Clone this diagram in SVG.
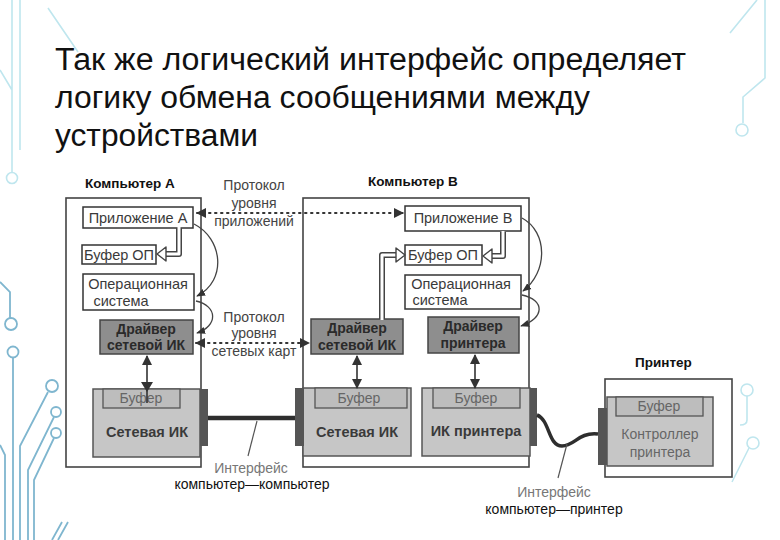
<svg xmlns="http://www.w3.org/2000/svg" width="780" height="540" viewBox="0 0 780 540">
<style>
  .t { font-family: "Liberation Sans", Arial, sans-serif; }
  .title { font-family: "Liberation Sans Narrow", "Liberation Sans", Arial, sans-serif; font-size: 31px; fill: #111; }
  .hdr { font-family: "Liberation Sans", Arial, sans-serif; font-size: 13.5px; font-weight: bold; fill: #111; }
  .lbl { font-family: "Liberation Sans", Arial, sans-serif; font-size: 14.5px; fill: #3a3a3a; text-anchor: middle; }
  .proto { font-family: "Liberation Sans", Arial, sans-serif; font-size: 14px; fill: #444; text-anchor: middle; }
  .drv { font-family: "Liberation Sans", Arial, sans-serif; font-size: 14px; font-weight: bold; fill: #2a2a2a; text-anchor: middle; }
  .nic { font-family: "Liberation Sans", Arial, sans-serif; font-size: 14.5px; font-weight: bold; fill: #3a3a3a; text-anchor: middle; }
  .buf { font-family: "Liberation Sans", Arial, sans-serif; font-size: 14px; fill: #666; text-anchor: middle; }
  .cap { font-family: "Liberation Sans", Arial, sans-serif; font-size: 14px; fill: #111; text-anchor: middle; }
  .capg { font-family: "Liberation Sans", Arial, sans-serif; font-size: 14px; fill: #777; text-anchor: middle; }
  .frame { fill: #fff; stroke: #444; stroke-width: 1.6; }
  .box { fill: #fff; stroke: #333; stroke-width: 1.5; }
  .dbox { fill: #8e8e8e; stroke: #444; stroke-width: 1.5; }
  .gbox { fill: #c6c6c6; stroke: #555; stroke-width: 1.5; }
  .bbox { fill: #bdbdbd; stroke: #555; stroke-width: 1.3; }
  .plug { fill: #555; }
  .dot { fill: none; stroke: #333; stroke-width: 2; stroke-dasharray: 1.5 4.5; stroke-linecap: round; }
  .curve { fill: none; stroke: #444; stroke-width: 1.3; }
  .dbl { fill: none; stroke: #333; stroke-width: 1.6; }
  .holo { fill: none; stroke: #444; stroke-width: 6; stroke-linejoin: round; }
  .holi { fill: none; stroke: #fff; stroke-width: 3; stroke-linejoin: round; }
  .hhead { fill: #fff; stroke: #444; stroke-width: 1.4; stroke-linejoin: round; }
  .deco { fill: none; stroke: #bfe6ee; stroke-width: 1.6; }
  .deco2 { fill: none; stroke: #7fb6cf; stroke-width: 1.8; }
</style>
<defs>
  <marker id="ah" viewBox="0 0 10 10" refX="9" refY="5" markerWidth="5" markerHeight="5" orient="auto-start-reverse" markerUnits="userSpaceOnUse">
    <path d="M0,0 L10,5 L0,10 z" fill="#333"/>
  </marker>
  <marker id="ahc" viewBox="0 0 10 10" refX="9" refY="5" markerWidth="9" markerHeight="9" orient="auto" markerUnits="userSpaceOnUse">
    <path d="M0,1 L10,5 L0,9 z" fill="#333"/>
  </marker>
  <marker id="ahd" viewBox="0 0 10 10" refX="9" refY="5" markerWidth="10" markerHeight="10" orient="auto-start-reverse" markerUnits="userSpaceOnUse">
    <path d="M0,0 L10,5 L0,10 z" fill="#333"/>
  </marker>
</defs>
<rect x="0" y="0" width="780" height="540" fill="#fff"/>

<g id="decoration">
  <path class="deco" d="M12,0 V172 M20,0 V150 M48,8 L78,52 M0,70 L12,90"/>
  <circle class="deco" cx="12" cy="178" r="5.5"/>
  <path class="deco" d="M765,0 V78 L743,97 V123 M757,0 L730,33"/>
  <circle class="deco" cx="742" cy="130" r="6"/>
  <path class="deco" d="M747,396 V420 Q747,425 740,425"/>
  <circle class="deco" cx="747" cy="390" r="6"/>
  <circle class="deco" cx="753" cy="443" r="6"/>
  <path class="deco" d="M749,448 L732,482"/>
  <path class="deco2" d="M0,282 L10,292 V318"/>
  <circle class="deco2" cx="11" cy="324" r="6"/>
  <circle class="deco2" cx="13" cy="352" r="5.5"/>
  <path class="deco2" d="M13,358 V540 M0,445 L5,455 V540 M48,392 L20,446 V540 M54,417 L28,470 V540 M54,438 L34,480 V540 M52,540 L62,522 M58,540 L68,522"/>
  <circle class="deco2" cx="52" cy="386" r="6"/>
  <circle class="deco2" cx="56" cy="412" r="5"/>
  <circle class="deco2" cx="56" cy="433" r="5"/>
</g>

<g id="title">
  <text class="title" x="55" y="70" textLength="631" lengthAdjust="spacingAndGlyphs">Так же логический интерфейс определяет</text>
  <text class="title" x="55" y="108" textLength="535" lengthAdjust="spacingAndGlyphs">логику обмена сообщениями между</text>
  <text class="title" x="55" y="146" textLength="203" lengthAdjust="spacingAndGlyphs">устройствами</text>
</g>

<g id="computerA">
  <rect class="frame" x="66" y="198" width="135" height="269"/>
  <text class="hdr" x="85" y="188">Компьютер А</text>
</g>
<g id="computerB">
  <rect class="frame" x="303" y="198" width="226" height="269"/>
  <text class="hdr" x="368" y="186">Компьютер В</text>
</g>
<g id="printer">
  <rect class="frame" x="605" y="379" width="127" height="98"/>
  <text class="hdr" x="635" y="367">Принтер</text>
</g>

<g id="appA">
  <rect class="box" x="83" y="207" width="110" height="21"/>
  <text class="lbl" x="138" y="223">Приложение А</text>
</g>
<g id="bufA">
  <rect class="box" x="82" y="245" width="74" height="19"/>
  <text class="lbl" x="119" y="260">Буфер ОП</text>
</g>
<g id="osA">
  <rect class="box" x="83" y="274" width="111" height="36"/>
  <text class="lbl" x="138" y="289">Операционная</text>
  <text class="lbl" x="121" y="306">система</text>
</g>
<g id="drvA">
  <rect class="dbox" x="100" y="320" width="93" height="34"/>
  <text class="drv" x="146" y="334">Драйвер</text>
  <text class="drv" x="146" y="350">сетевой ИК</text>
</g>
<g id="nicA">
  <rect class="gbox" x="93" y="389" width="107" height="68"/>
  <rect class="bbox" x="103" y="389" width="77" height="19"/>
  <text class="buf" x="141" y="403">Буфер</text>
  <text class="nic" x="147" y="437">Сетевая ИК</text>
  <rect class="plug" x="200" y="389" width="8" height="57"/>
</g>

<g id="appB">
  <rect class="box" x="405" y="206" width="116" height="25"/>
  <text class="lbl" x="463" y="223">Приложение В</text>
</g>
<g id="bufB">
  <rect class="box" x="405" y="245" width="77" height="20"/>
  <text class="lbl" x="443" y="260">Буфер ОП</text>
</g>
<g id="osB">
  <rect class="box" x="405" y="275" width="116" height="34"/>
  <text class="lbl" x="461" y="289">Операционная</text>
  <text class="lbl" x="440" y="305">система</text>
</g>
<g id="drvB">
  <rect class="dbox" x="311" y="319" width="92" height="35"/>
  <text class="drv" x="357" y="333">Драйвер</text>
  <text class="drv" x="357" y="350">сетевой ИК</text>
</g>
<g id="drvPrn">
  <rect class="dbox" x="428" y="317" width="91" height="36"/>
  <text class="drv" x="473" y="331">Драйвер</text>
  <text class="drv" x="473" y="348">принтера</text>
</g>
<g id="nicB">
  <rect class="gbox" x="303" y="388" width="108" height="68"/>
  <rect class="bbox" x="315" y="388" width="92" height="20"/>
  <text class="buf" x="359" y="403">Буфер</text>
  <text class="nic" x="357" y="437">Сетевая ИК</text>
  <rect class="plug" x="295" y="388" width="9" height="58"/>
</g>
<g id="nicPrn">
  <rect class="gbox" x="422" y="388" width="108" height="68"/>
  <rect class="bbox" x="433" y="388" width="87" height="20"/>
  <text class="buf" x="476" y="403">Буфер</text>
  <text class="nic" x="476" y="436">ИК принтера</text>
  <rect class="plug" x="530" y="388" width="7" height="58"/>
</g>
<g id="ctrlPrn">
  <rect class="gbox" x="607" y="397" width="106" height="69"/>
  <rect class="bbox" x="616" y="397" width="87" height="19"/>
  <text class="buf" x="659" y="411">Буфер</text>
  <text class="buf" x="660" y="439" fill="#555">Контроллер</text>
  <text class="buf" x="660" y="457" fill="#555">принтера</text>
  <rect class="plug" x="598" y="408" width="9" height="57"/>
</g>

<g id="labels">
  <text class="proto" x="254" y="190">Протокол</text>
  <text class="proto" x="254" y="208">уровня</text>
  <text class="proto" x="254" y="226">приложений</text>
  <text class="proto" x="254" y="322">Протокол</text>
  <text class="proto" x="254" y="338">уровня</text>
  <text class="proto" x="254" y="356">сетевых карт</text>
  <text class="capg" x="251" y="473">Интерфейс</text>
  <text class="cap" x="252" y="489">компьютер—компьютер</text>
  <text class="capg" x="554" y="497">Интерфейс</text>
  <text class="cap" x="554" y="514">компьютер—принтер</text>
</g>

<g id="connectors">
  <!-- protocol dotted lines -->
  <line class="dot" x1="197" y1="213" x2="403" y2="213" marker-start="url(#ahd)" marker-end="url(#ahd)"/>
  <line class="dot" x1="196" y1="343" x2="309" y2="343" marker-start="url(#ahd)" marker-end="url(#ahd)"/>
  <!-- hollow arrows -->
  <path class="holo" d="M179,228 V254 H165"/>
  <path class="holi" d="M179,227 V254 H165"/>
  <path class="hhead" d="M157,254 L166,247 L166,261 Z"/>
  <path class="holo" d="M503,232 V256 H490"/>
  <path class="holi" d="M503,231 V256 H490"/>
  <path class="hhead" d="M483,256 L492,249 L492,263 Z"/>
  <path class="holo" d="M382,319 V255 H397"/>
  <path class="holi" d="M382,320 V255 H397"/>
  <path class="hhead" d="M405,255 L396,248 L396,262 Z"/>
  <!-- curved arrows -->
  <path class="curve" d="M194,224 C222,238 228,280 197,296" marker-end="url(#ahc)"/>
  <path class="curve" d="M196,301 C218,306 218,326 197,333" marker-end="url(#ahc)"/>
  <path class="curve" d="M522,218 C548,232 548,272 523,291" marker-end="url(#ahc)"/>
  <path class="curve" d="M522,295 C545,300 545,318 521,326" marker-end="url(#ahc)"/>
  <!-- vertical double arrows -->
  <line class="dbl" x1="147" y1="356" x2="147" y2="403" marker-start="url(#ahd)"/>
  <path d="M141,382 L153,382 L147,392 Z" fill="#333"/>
  <line class="dbl" x1="357" y1="356" x2="357" y2="388" marker-start="url(#ahd)" marker-end="url(#ahd)"/>
  <line class="dbl" x1="475" y1="355" x2="475" y2="388" marker-start="url(#ahd)" marker-end="url(#ahd)"/>
  <!-- cables -->
  <line x1="208" y1="418" x2="295" y2="418" stroke="#2e2e2e" stroke-width="4.5"/>
  <path d="M537,415 C550,420 548,446 562,446 C575,446 578,432 598,434" fill="none" stroke="#2e2e2e" stroke-width="3.5"/>
  <!-- leader lines -->
  <line x1="257" y1="421" x2="248" y2="456" stroke="#555" stroke-width="1.2"/>
  <line x1="567" y1="444" x2="558" y2="478" stroke="#555" stroke-width="1.2"/>
</g>
</svg>
